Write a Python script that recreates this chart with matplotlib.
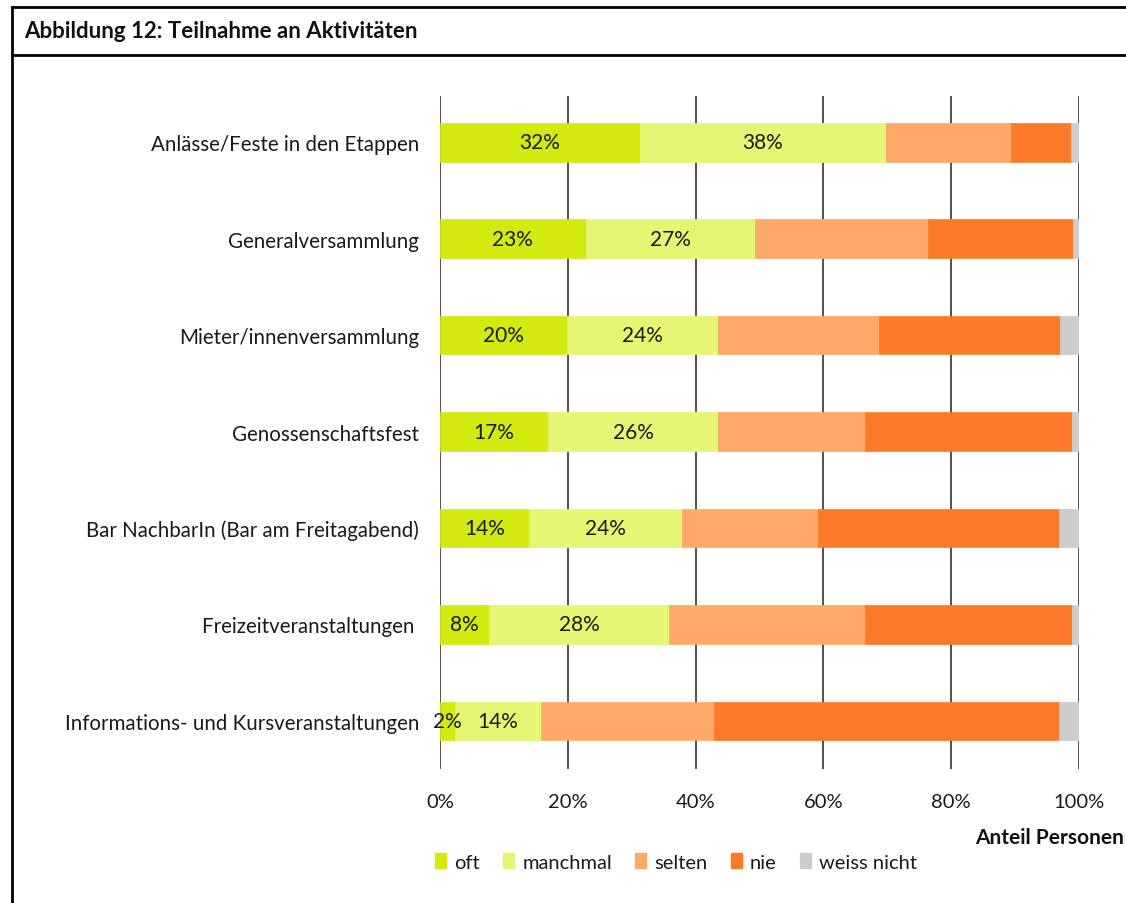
import matplotlib
matplotlib.use("Agg")
import matplotlib.pyplot as plt
from matplotlib.lines import Line2D
from matplotlib.patches import Patch
import numpy as np

plt.rcParams['font.family'] = ['Lato', 'DejaVu Sans']

categories = [
    "Anlässe/Feste in den Etappen",
    "Generalversammlung",
    "Mieter/innenversammlung",
    "Genossenschaftsfest",
    "Bar NachbarIn (Bar am Freitagabend)",
    "Freizeitveranstaltungen ",
    "Informations- und Kursveranstaltungen",
]
series_names = ["oft", "manchmal", "selten", "nie", "weiss nicht"]
oft = [31.3, 22.8, 19.9, 16.9, 13.9, 7.7, 2.4]
manchmal = [38.5, 26.5, 23.6, 26.6, 24.0, 28.2, 13.4]
selten = [19.6, 27.0, 25.2, 23.0, 21.3, 30.6, 27.1]
nie = [9.35, 22.76, 28.3, 32.4, 37.7, 32.4, 54.0]
weiss = [1.25, 0.94, 3.0, 1.1, 3.1, 1.1, 3.1]
oft_labels = ["32%", "23%", "20%", "17%", "14%", "8%", "2%"]
manchmal_labels = ["38%", "27%", "24%", "26%", "24%", "28%", "14%"]
xticks = [0, 20, 40, 60, 80, 100]
xtick_labels = ["0%", "20%", "40%", "60%", "80%", "100%"]

colors = ["#d3e90f", "#e6f573", "#fca96a", "#fc7927", "#cccccc"]

W, H = 1126, 904
fig = plt.figure(figsize=(W / 100, H / 100), dpi=100)
ax = fig.add_axes([440 / W, 1 - 770 / H, (1079 - 440) / W, (770 - 97) / H])

y = np.arange(len(categories))
data = [oft, manchmal, selten, nie, weiss]
left = np.zeros(len(categories))
for vals, c, name in zip(data, colors, series_names):
    vals = np.array(vals)
    ax.barh(y, vals, left=left, height=0.4, color=c, label=name, zorder=3,
            edgecolor=c, linewidth=0.5)
    if name == "oft":
        for i, v in enumerate(vals):
            ax.text(left[i] + v / 2, y[i], oft_labels[i], ha="center", va="center",
                    fontsize=15, color="#1a1a1a", zorder=4)
    if name == "manchmal":
        for i, v in enumerate(vals):
            ax.text(left[i] + v / 2, y[i], manchmal_labels[i], ha="center", va="center",
                    fontsize=15, color="#1a1a1a", zorder=4)
    left += vals

ax.set_xlim(0, 100)
ax.set_ylim(6.5, -0.48)
ax.set_xticks(xticks)
ax.set_xticklabels(xtick_labels, fontsize=14.5, color="#1a1a1a")
ax.set_yticks(y)
ax.set_yticklabels(categories, fontsize=14.8, color="#1a1a1a")
ax.tick_params(axis="both", length=0)
ax.tick_params(axis="y", pad=15)
ax.tick_params(axis="x", pad=17)
for s in ax.spines.values():
    s.set_visible(False)
ax.grid(axis="x", color="#444444", linewidth=1.3, zorder=1)
ax.set_axisbelow(True)

fig.text(1124 / W, 1 - 838 / H, "Anteil Personen", ha="right", va="center",
         fontsize=15, fontweight="bold", color="#111111")

handles = [Patch(facecolor=c, edgecolor=c) for c in colors]
fig.legend(handles, series_names, loc="center", bbox_to_anchor=(676 / W, 1 - 863 / H),
           ncol=5, frameon=False, fontsize=14.5, handlelength=0.55, handleheight=0.7,
           handletextpad=0.4, columnspacing=1.15, labelcolor="#1a1a1a")

# frame and title bar
fig.add_artist(Line2D([12 / W, 12 / W], [0, 1 - 8 / H], transform=fig.transFigure,
                      color="black", linewidth=2))
fig.add_artist(Line2D([12 / W, 1], [1 - 8 / H, 1 - 8 / H], transform=fig.transFigure,
                      color="black", linewidth=2))
fig.add_artist(Line2D([12 / W, 1], [1 - 56 / H, 1 - 56 / H], transform=fig.transFigure,
                      color="black", linewidth=2))
fig.text(24 / W, 1 - 32 / H, "Abbildung 12: Teilnahme an Aktivitäten", ha="left",
         va="center", fontsize=16, fontweight="bold", color="#111111")

fig.savefig("out.png", dpi=100)
